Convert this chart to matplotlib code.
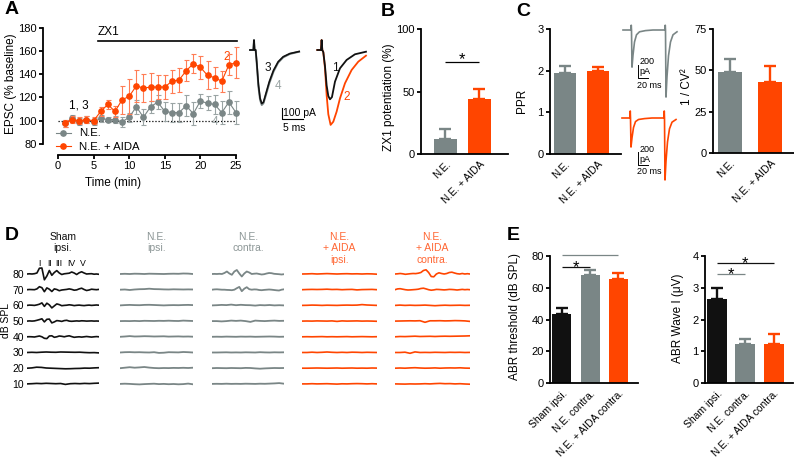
import numpy as np
import matplotlib
matplotlib.use('Agg')
import matplotlib.pyplot as plt
from matplotlib.lines import Line2D

plt.rcParams['font.family'] = ['Liberation Sans', 'DejaVu Sans']

W, H = 794, 463
GREY = '#7a8686'
ORANGE = '#ff4500'
BLACK = '#111111'
GREY_EB = '#9aa4a4'
ORANGE_EB = '#ff7d55'
GREY_TXT = '#8c9696'
ORANGE_TXT = '#ff6633'
TICK_FS = 8
LABEL_FS = 8.5

# ---------------- Panel A data ----------------
time_min = list(range(1, 26))
ne_mean = [98, 102, 99, 101, 99, 102, 101, 101, 99, 103, 112, 103, 112, 116, 108,
           107, 107, 113, 106, 117, 115, 114, 107, 116, 107]
ne_sem = [3, 3, 3, 3, 3, 3, 2, 3, 4, 4, 6, 7, 5, 6, 8, 8, 8, 9, 10, 6, 6, 8, 10, 10, 10]
aida_mean = [98, 101, 100, 101, 100, 108, 114, 108, 118, 121, 130, 128, 129, 129, 129,
             134, 135, 143, 149, 146, 139, 137, 134, 148, 150]
aida_sem = [3, 3, 3, 3, 3, 4, 4, 5, 12, 15, 14, 12, 12, 10, 10, 10, 10, 9, 8, 10, 12, 9, 9, 9, 13]
zx1_start, zx1_end = 5.6, 25.1

# EPSC example traces (ms, pA)
epsc_t_left = [0, 0.8, 0.95, 1.1, 1.35, 1.6, 2.0, 2.4, 2.8, 3.2, 3.8, 4.6, 5.6, 6.7, 7.9, 9.5, 11.7]
epsc_ne_4 = [0, 0, 93, 0, 0, -125, -343, -467, -514, -498, -420, -311, -202, -118, -69, -37, -16]
epsc_ne_3 = [0, 0, 93, 0, 0, -110, -320, -450, -500, -488, -405, -295, -190, -110, -63, -33, -14]
epsc_t_r1 = [0, 0.87, 1.03, 1.19, 1.43, 1.83, 2.22, 2.62, 3.02, 3.49, 4.21, 5.40, 6.98, 8.97, 11.59]
epsc_aida_1 = [0, 0, 93, 0, -20, -150, -330, -430, -461, -440, -296, -171, -93, -40, -16]
epsc_t_r2 = [0, 0.87, 1.03, 1.19, 1.43, 1.83, 2.22, 2.62, 3.17, 3.81, 4.60, 5.40, 6.59, 8.17, 9.76, 11.59]
epsc_aida_2 = [0, 0, 93, 0, -20, -170, -420, -600, -700, -670, -576, -452, -311, -187, -109, -53]

# ---------------- Panel B / C data ----------------
groups2 = ['N.E.', 'N.E. + AIDA']
potent_mean = [12, 44]
potent_sem = [8, 8]
ppr_mean = [1.95, 2.0]
ppr_sem = [0.17, 0.1]
cv_mean = [49, 43]
cv_sem = [8, 9.5]

# paired-pulse example traces (ms, pA)
ppr_t = [0, 16, 16.5, 17, 18, 20, 23, 27, 33, 45, 60, 84, 84.5, 85, 86, 88, 91, 95, 100, 108]
ppr_ne = [0, 0, 80, 0, -620, -420, -200, -80, -30, -10, 0, 0, 80, 0, -1120, -780, -430, -200, -80, -30]
ppr_aida = [0, 0, 117, 0, -485, -330, -160, -60, -25, -10, 0, 0, 117, 0, -1035, -720, -400, -180, -70, -25]

# ---------------- Panel D data (ABR traces, 80 -> 10 dB) ----------------
db_levels = [80, 70, 60, 50, 40, 30, 20, 10]
sham_ipsi = [
    [0, 0.2, 0, 0.3, 1.0, 5.8, 6.0, -5.8, -2.0, 3.5, -1.3, 1.5, 3.4, 1.0, -0.5, 0.2, 0.5, 0.8, 2.0, 1.0,
     -0.5, 1.2, 2.2, 1.0, 0, 0.2, 0.3, -0.2, 0, -0.3],
    [0, 0.2, 0.1, 0, 0.8, 3.0, 2.0, -2.0, 1.8, 0.5, -1.8, 0.8, 0.2, -1.0, -0.3, 0, 0.3, 0.8, 0.3, -0.5,
     -0.2, 0.8, 1.5, 0.2, -0.8, -0.3, 0.5, 0.2, 0, 0.3],
    [0, 0.3, 0.2, 0, 0.5, 1.2, 2.5, -1.0, 2.2, 0.5, -2.5, -0.5, 1.5, 0.8, -0.3, 0, 0.2, 0.6, 0.3, -0.2,
     0.1, 0.3, 0, -0.2, 0.1, 0.3, 0, 0.2, 0.4, 0.2],
    [0, 0.2, 0, 0.2, 0.8, 1.5, 2.3, -0.8, 1.8, 2.0, -1.8, -0.8, 0.5, 0.2, -0.3, 0.5, 0.8, 0, -0.2, 0,
     0.2, 0, 0.3, 0.2, 0, 0.1, 0.2, 0, 0.1, 0],
    [0, 0.1, 0, -0.2, 0.3, 0.8, 0, -1.5, -1.8, 0.8, 1.0, -0.5, 0, 0.8, 0.5, 0, 0.6, 1.0, 0.2, -0.5,
     -0.2, 0, -0.3, 0, 0.3, 0, -0.3, 0, 0.2, 0],
    [0, 0.2, 0, 0.3, 0.5, 0.3, 0.2, 0.5, 0.4, 0.3, 0.2, 0.3, 0, -0.2, -0.1, -0.4],
    [0, 0.3, 1.0, 0.8, 0.2, 0, -0.2, -0.4, -0.6, -0.5, -0.3, -0.2, 0.1, 0, 0.3, 0.5],
    [0, 0.2, 0.5, 0.3, 0.6, 0.4, 0.2, 0.4, -0.5, 0.2, 0.4, 0.2, 0.5, 0.3, 0.6, 0.8],
]
ne_ipsi = [
    [0, 0.2, 0, 0.3, 0.2, 0, 0.3, 0.2, 0.1, 0, 0.2, 0.3, 0.2, 0.5, 0.4, 0],
    [0, 0.2, -0.3, 0.2, 0.5, 0.6, 1.0, 0.6, 0.5, 0.3, 0.2, 0.4, 0.3, 0.2, 0.3, 0.2],
    [0, 0.3, 0.5, 0.3, 0.2, 0.5, 0.6, 0.4, 0.2, 0, 0.2, 0.3, 0.2, 0.4, 0.5, 0.3],
    [0, 0.1, 0, 0.2, 0, 0.3, 0.2, 0.1, 0.3, 0.2, 0.4, 0.2, 0.1, 0.5, 0.3, 0.1],
    [0, 0.3, 0.7, 0.3, 0.4, 0.6, 0.5, 0.3, 0.4, 0.5, 0.2, 0.3, 0.4, 0.2, 0.3, 0.1],
    [0, 0.3, 0.4, 0.2, 0.3, 0.1, 0, 0.3, -0.4, -0.2, 0.3, 0.2, 0.1, 0.5, 0.3, 0],
    [0, 0.5, 1.0, 0.5, 0.8, 1.2, 0.6, 0.2, 0, 0.2, 0.1, 0.3, 0.2, 0.4, 0.2, 0.5],
    [0, 0.2, 0, -0.3, -0.5, -0.2, 0, 0.2, -0.2, 0, -0.3, -0.1, -0.4, -0.2, 0.3, -0.4],
]
ne_contra = [
    [0, 0.1, 0, 0.2, 0, 1.0, 2.5, 0.5, -0.8, 2.5, 4.0, 0.5, -2.5, 0.5, 2.5, 1.5, 0, 0.3, 0.5, 0,
     -0.5, -0.2, 0.5, 1.0, 0.8, 0.2, 0, -0.2, -0.5, -0.2],
    [0, 0.3, 0.4, 0.2, 0, 0, -0.2, -0.3, -0.5, 0, 1.5, 2.8, -1.5, 1.0, 2.5, 0.5, 0, 0.3, 0.2, -0.3,
     -0.5, -0.2, 0, 0.2, 0, -0.3, -0.6, -0.8, 0, 0.4],
    [0, 0.2, 0.5, 0.3, 0.8, 0.2, 0.6, 0.3, 0.2, -0.2, 0.3, 0.1, 0.4, 0, 0.2, 0],
    [0, 0, -0.3, 0, 0.5, 0.2, 0.5, 0, -0.8, 0.5, 0.2, 0, 0.3, 0.5, 0.2, 0.3],
    [0, 0.1, 0, 0.2, 0.1, 0, 0.2, 0.1, 0.2, 0, 0.1, 0.2, 0.3, 0.2, 0, 0.1],
    [0, 0, 0.1, 0.2, 0, 0.1, 0, 0.2, 0.1, 0, 0.3, 0.1, 0, 0.2, 0.1, 0.2],
    [0, 0.2, 0.1, 0, 0.2, 0.1, 0, 0.3, 0.2, -0.2, -0.5, -0.2, 0, 0.2, 0.1, 0.2],
    [0, 0.1, 0, 0.2, 0, 0.1, 0, 0.2, 0.1, 0, 0.2, 0.1, 0.3, 0.5, 0.8, 0.2],
]
aida_ipsi = [
    [0, 0.1, 0.3, 0, 0.2, 0.4, 0.2, 0, 0.2, 0.3, 0.1, 0.2, 0, 0.2, 0.1, -0.2],
    [0, 0.2, 0.3, 0.2, 0.3, 0.5, 0.2, 0.3, 0, 0.2, 0.3, -0.2, 0.1, 0.2, 0.3, 0],
    [0, 0.1, 0.3, 0.2, 0, 0.2, 0.1, 0, 0.2, 0.3, 0.2, 0.3, 0.8, 0.4, 0.2, 0],
    [0, 0.1, 0, 0.2, 0.1, 0, 0.2, -0.3, 0.2, 0, 0.1, 0.2, 0, 0.1, 0, -0.2],
    [0, 0.1, 0, 0.1, 0.2, 0, 0.1, 0, 0.1, 0.2, 0, 0.1, 0.2, 0.1, 0, 0.1],
    [0, 0, 0.3, 0, 0.2, 0.5, 0.2, 0, 0.2, 0, 0.3, 0.2, 0, 0.2, 0.1, 0],
    [0, 0, 0.1, 0.2, 0.1, 0, 0.1, 0.2, 0, 0.1, 0.2, 0, 0.1, 0, 0.2, 0.1],
    [0, 0, 0.2, 0, 0.1, 0.2, 0, -0.2, 0.1, 0, 0.2, 0.3, 0.2, 0, 0.2, 0],
]
aida_contra = [
    [0, 0.2, 0.5, 0.2, -0.3, 0, 0.3, 0.5, 0.4, 0.8, 1.5, 3.5, 4.2, 1.5, -2.5, -2.8, 0, 1.2, 0.5, 0,
     0.5, 1.5, 1.8, 1.0, 0.3, 0, 0.5, 0, 0.3, 0],
    [0, 0.8, 1.0, 0.5, 0, -0.3, -0.2, 0, 0.2, 0.5, 1.2, 1.5, 0.8, 0, -0.5, -0.2, 0.3, 0.2, 0, -0.2,
     0, 0.3, 0.2, 0, -0.3, 0, 0.3, 0, 0.2, 0],
    [0, 0.3, 0, 0.2, 0, 0.1, 0.3, 0, -0.3, 0, 0.2, 0, 0.1, 0.2, 0, 0.1],
    [0, 0.1, 0.2, 0.3, 0.2, 0.4, -1.2, 0.3, 0.3, 0.4, 0.2, 0.3, 0.5, 0.4, 0.2, -0.3],
    [0, 0.3, 0.2, 0.4, 0.6, 0.3, 0.4, 0.5, 0.3, 0.5, 0.6, 0.5, 0.6, 0.7, 0.8, 1.0],
    [0, 0, 0.3, -0.8, 0.6, 0, 0.1, 0, 0.2, 0.1, 0, 0.2, 0.1, 0.2, 0, 0.1],
    [0, 0.2, 0, 0.3, 0.5, 0.2, 0, 0.1, 0.3, 0, 0.2, 0.3, 0.2, 0.4, 0.1, 0],
    [0, -0.1, -0.2, 0, -0.1, 0, 0.2, 0, 0.3, 0.5, 0.2, 0.3, 0, 0.2, -0.1, -0.3],
]
wave_labels = ['I', 'II', 'III', 'IV', 'V']
wave_label_ms = [1.7, 3.2, 4.4, 6.2, 7.8]

# ---------------- Panel E data ----------------
groups3 = ['Sham ipsi.', 'N.E. contra.', 'N.E. + AIDA contra.']
thr_mean = [43.5, 68, 65.3]
thr_sem = [3.5, 3.2, 3.8]
wave_mean = [2.66, 1.24, 1.24]
wave_sem = [0.32, 0.15, 0.29]

# ======================================================================
fig = plt.figure(figsize=(W / 100, H / 100), dpi=100)
BOX = {}


def make_ax(l, t, r, b):
    ax = fig.add_axes([l / W, 1 - b / H, (r - l) / W, (b - t) / H])
    BOX[ax] = (l, t, r, b)
    return ax


def ylabel_at(ax, text, xpx, ypx, **kw):
    l, t, r, b = BOX[ax]
    ax.set_ylabel(text, **kw)
    ax.yaxis.set_label_coords((xpx - l) / (r - l), (b - ypx) / (b - t))


def fig_text(xpx, ypx, s, **kw):
    fig.text(xpx / W, 1 - ypx / H, s, **kw)


def prism(ax, lw=1.3):
    for s in ['top', 'right']:
        ax.spines[s].set_visible(False)
    for s in ['left', 'bottom']:
        ax.spines[s].set_linewidth(lw)
    ax.tick_params(axis='both', direction='out', width=lw, length=3, labelsize=TICK_FS, pad=1.5)


def bar_panel(ax, means, sems, colors, width, labels):
    x = np.arange(len(means))
    ax.bar(x, means, width, color=colors, zorder=2)
    for xi, m, s, c in zip(x, means, sems, colors):
        ax.errorbar(xi, m, yerr=[[0], [s]], color=c, capsize=4.5, elinewidth=1.7,
                    capthick=1.7, zorder=1)
    ax.set_xticks(x)
    ax.set_xticklabels(labels, rotation=45, ha='right', rotation_mode='anchor', fontsize=7.5)
    ax.tick_params(axis='x', length=0, pad=4)


def sig(ax, x0, x1, y, color, fs=12, off=-2.5):
    ax.plot([x0, x1], [y, y], color=color, lw=0.9, solid_capstyle='butt', clip_on=False)
    ax.annotate('*', xy=((x0 + x1) / 2, y), xytext=(0, off), textcoords='offset points',
                ha='center', va='baseline', fontsize=fs, color='black')


# ---------------- Panel A ----------------
axA = make_ax(58, 27.7, 236, 144)
prism(axA, lw=1.3)
axA.spines['left'].set_position(('outward', 15 * 0.72))
axA.spines['bottom'].set_position(('outward', 11 * 0.72))
axA.set_xlim(0, 25)
axA.set_ylim(80, 180)
axA.spines['left'].set_bounds(80, 180)
axA.spines['bottom'].set_bounds(0, 25)
axA.set_yticks(range(80, 181, 20))
axA.set_xticks(range(0, 26, 5))
axA.axhline(100, color='black', lw=0.9, ls=(0, (1, 1.5)), zorder=0)
axA.errorbar(time_min, ne_mean, yerr=ne_sem, color=GREY, ecolor=GREY_EB, marker='o', ms=3.8,
             lw=0.8, elinewidth=0.8, capsize=1.8, capthick=0.8, clip_on=False, zorder=3)
axA.errorbar(time_min, aida_mean, yerr=aida_sem, color=ORANGE, ecolor=ORANGE_EB, marker='o',
             ms=3.8, lw=0.8, elinewidth=0.8, capsize=1.8, capthick=0.8, clip_on=False, zorder=4)
axA.plot([zx1_start, zx1_end], [168.5, 168.5], color='black', lw=1.2, clip_on=False)
axA.text(5.6, 171.5, 'ZX1', ha='left', va='bottom', fontsize=8.5)
axA.text(2.9, 113.5, '1, 3', ha='center', va='center', fontsize=8.5)
axA.text(23.7, 155, '2', ha='center', va='center', fontsize=8.5, color=ORANGE)
axA.text(22.0, 99, '4', ha='center', va='center', fontsize=8.5, color=GREY_EB, zorder=2)
axA.set_xlabel('Time (min)', fontsize=LABEL_FS)
axA.xaxis.set_label_coords((113 - 58) / 178, (144 - 183) / 116.3)
axA.xaxis.label.set_va('center')
ylabel_at(axA, 'EPSC (% baseline)', 11, 84, fontsize=LABEL_FS, va='center')
handles = [Line2D([], [], color=GREY, marker='o', ms=3.8, lw=0.8),
           Line2D([], [], color=ORANGE, marker='o', ms=3.8, lw=0.8)]
axA.legend(handles, ['N.E.', 'N.E. + AIDA'], loc='upper left',
           bbox_to_anchor=(56 / W, 1 - 128.5 / H), bbox_transform=fig.transFigure,
           frameon=False, fontsize=8.2, handlelength=1.3, handletextpad=0.7,
           labelspacing=0.3, borderpad=0, borderaxespad=0)

# EPSC traces
PX_PER_MS, PX_PER_PA = 4.2, 0.107
axT = make_ax(245, 30, 375, 135)
axT.set_xlim(0, 130 / PX_PER_MS)
axT.set_ylim(-(135 - 50) / PX_PER_PA, (50 - 30) / PX_PER_PA)
axT.axis('off')
off_l, off_r = (250 - 245) / PX_PER_MS, (317.3 - 245) / PX_PER_MS
axT.plot(np.array(epsc_t_left) + off_l, epsc_ne_4, color=GREY, lw=1.4)
axT.plot(np.array(epsc_t_left) + off_l, epsc_ne_3, color=BLACK, lw=1.2)
axT.plot(np.array(epsc_t_r2) + off_r, epsc_aida_2, color=ORANGE, lw=1.3)
axT.plot(np.array(epsc_t_r1) + off_r, epsc_aida_1, color=BLACK, lw=1.3)
axT.plot([8.8, 8.8, 13.8], [-545, -645, -645], color='black', lw=0.8)
axT.text(9.15, -590, '100 pA', fontsize=7.5, va='center', ha='left')
axT.text(9.0, -730, '5 ms', fontsize=7.5, va='center', ha='left')
axT.text(5.5, -168, '3', fontsize=8.5, ha='center', va='center', color=BLACK)
axT.text(7.9, -336, '4', fontsize=8.5, ha='center', va='center', color=GREY_EB)
axT.text(21.4, -168, '1', fontsize=8.5, ha='center', va='center', color=BLACK)
axT.text(24.3, -439, '2', fontsize=8.5, ha='center', va='center', color=ORANGE)

# ---------------- Panel B ----------------
axB = make_ax(421, 29, 508, 154)
prism(axB)
bar_panel(axB, potent_mean, potent_sem, [GREY, ORANGE], 0.68, groups2)
axB.set_xlim(-0.72, 1.84)
axB.set_ylim(0, 100)
axB.set_yticks([0, 50, 100])
sig(axB, 0.0, 1.0, 74, 'black', off=-2)
ylabel_at(axB, 'ZX1 potentiation (%)', 389, 97, fontsize=LABEL_FS, va='center')

# ---------------- Panel C ----------------
axP = make_ax(550, 29, 621, 154)
prism(axP)
bar_panel(axP, ppr_mean, ppr_sem, [GREY, ORANGE], 0.67, groups2)
axP.set_xlim(-0.455, 1.70)
axP.set_ylim(0, 3)
axP.set_yticks([0, 1, 2, 3])
ylabel_at(axP, 'PPR', 522, 101, fontsize=LABEL_FS, va='center')

axV = make_ax(713, 29, 794, 153)
prism(axV)
bar_panel(axV, cv_mean, cv_sem, [GREY, ORANGE], 0.6, groups2)
axV.set_xlim(-0.425, 1.6)
axV.set_ylim(0, 75)
axV.set_yticks([0, 25, 50, 75])
ylabel_at(axV, '1 / CV²', 687, 87, fontsize=LABEL_FS, va='center')

PA_PER_PX = 16.7
axC = make_ax(615, 15, 690, 190)
axC.set_xlim(0, 150)
axC.set_ylim(-(190 - 30) * PA_PER_PX, (30 - 15) * PA_PER_PX)
axC.axis('off')
axC.plot(np.array(ppr_t) + 16, ppr_ne, color=GREY, lw=1.2)
axC.plot(np.array(ppr_t) + 14, np.array(ppr_aida) - (118 - 30) * PA_PER_PX, color=ORANGE, lw=1.2)
for base_px in [65, 152]:
    y0 = -(base_px - 30) * PA_PER_PX
    y1 = y0 - 13 * PA_PER_PX
    axC.plot([46, 46, 66], [y0, y1, y1], color='black', lw=0.7)
    axC.text(49, y0 + 3 * PA_PER_PX, '200', fontsize=6.5, va='center', ha='left')
    axC.text(49, y0 - 7 * PA_PER_PX, 'pA', fontsize=6.5, va='center', ha='left')
    axC.text(44, y1 - 7 * PA_PER_PX, '20 ms', fontsize=6.5, va='center', ha='left')

# ---------------- Panel D ----------------
PX_PER_10DB = 15.7
GAIN = 10 / PX_PER_10DB
d_cols = [
    (sham_ipsi, BLACK, (27, 99), 'Sham\nipsi.', BLACK, 1.2),
    (ne_ipsi, GREY, (120, 193), 'N.E.\nipsi.', GREY_TXT, 1.3),
    (ne_contra, GREY, (212, 284), 'N.E.\ncontra.', GREY_TXT, 1.3),
    (aida_ipsi, ORANGE, (302, 377), 'N.E.\n+ AIDA\nipsi.', ORANGE_TXT, 1.2),
    (aida_contra, ORANGE, (395, 470), 'N.E.\n+ AIDA\ncontra.', ORANGE_TXT, 1.2),
]
d_axes = []
for traces, col, (xl, xr), title, tcol, lw in d_cols:
    ax = make_ax(xl, 255, xr, 395)
    ax.set_xlim(0, 10)
    ax.set_ylim(80 - (395 - 274) / PX_PER_10DB * 10, 80 + (274 - 255) / PX_PER_10DB * 10)
    for lev, tr in zip(db_levels, traces):
        tt = np.linspace(0, 10, len(tr))
        ax.plot(tt, lev + np.array(tr) * GAIN, color=col, lw=lw)
    for s in ax.spines.values():
        s.set_visible(False)
    ax.set_xticks([])
    ax.set_yticks([])
    fig_text((xl + xr) / 2, 231.5, title, ha='center', va='top', fontsize=7.5, color=tcol,
             linespacing=1.2)
    d_axes.append(ax)
axD0 = d_axes[0]
axD0.set_yticks(db_levels)
axD0.set_yticklabels([str(v) for v in db_levels], fontsize=7.5)
axD0.tick_params(axis='y', length=0, pad=2)
for lab, ms in zip(wave_labels, wave_label_ms):
    axD0.text(ms, 80 + 10 * 10 / PX_PER_10DB, lab, fontsize=6.3, ha='center', va='center')
fig_text(6, 320, 'dB SPL', rotation=90, ha='center', va='center', fontsize=7.5)

# ---------------- Panel E ----------------
axE1 = make_ax(550, 256, 638, 383)
prism(axE1)
bar_panel(axE1, thr_mean, thr_sem, [BLACK, GREY, ORANGE], 0.67, groups3)
axE1.set_xlim(-0.42, 2.69)
axE1.set_ylim(0, 80)
axE1.set_yticks([0, 20, 40, 60, 80])
sig(axE1, 0, 2, 80.6, GREY, off=-3.6)
sig(axE1, 0, 1, 73, BLACK, off=-3.6)
ylabel_at(axE1, 'ABR threshold (dB SPL)', 515, 317, fontsize=LABEL_FS, va='center')

axE2 = make_ax(705, 256, 793, 383)
prism(axE2)
bar_panel(axE2, wave_mean, wave_sem, [BLACK, GREY, ORANGE], 0.7, groups3)
axE2.set_xlim(-0.42, 2.67)
axE2.set_ylim(0, 4)
axE2.set_yticks([0, 1, 2, 3, 4])
sig(axE2, 0, 2, 3.78, BLACK, off=-3.6)
sig(axE2, 0, 1, 3.43, GREY, off=-3.6)
ylabel_at(axE2, 'ABR Wave I (μV)', 678, 318, fontsize=LABEL_FS, va='center')

# ---------------- panel letters ----------------
for letter, x, y in [('A', 12, 10), ('B', 388, 11), ('C', 523, 11), ('D', 12, 236), ('E', 513, 236)]:
    fig_text(x, y, letter, fontsize=14, fontweight='bold', ha='center', va='center')

fig.savefig('out.png', dpi=100)
